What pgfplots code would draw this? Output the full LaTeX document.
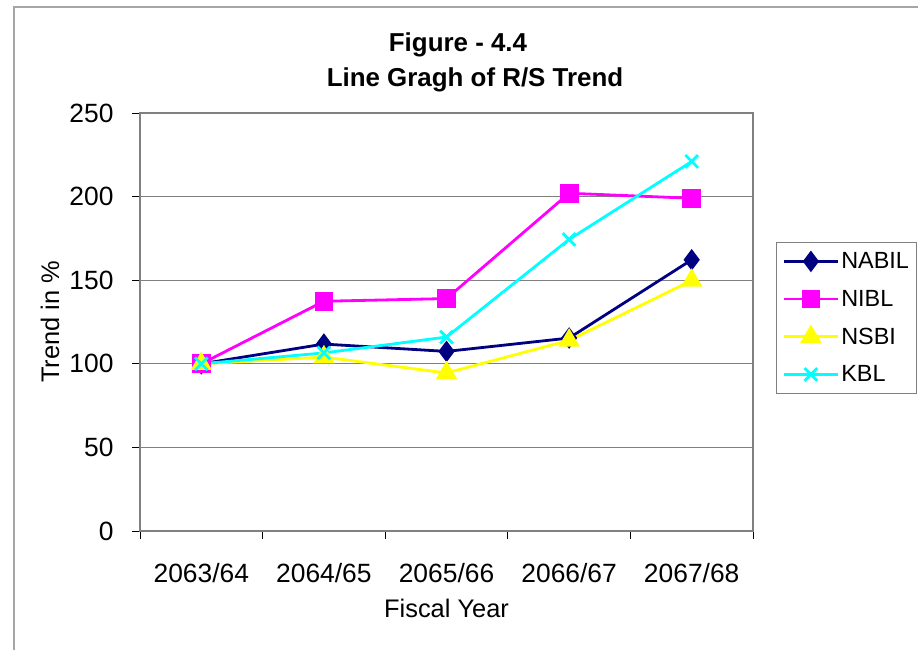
\documentclass[border=0pt]{standalone}
\usepackage{fontspec}
\setmainfont{Liberation Sans}
\usepackage{pgfplots}
\pgfplotsset{compat=1.18}

\definecolor{cNabil}{RGB}{0,0,128}
\definecolor{cNibl}{RGB}{255,0,255}
\definecolor{cNsbi}{RGB}{255,255,0}
\definecolor{cKbl}{RGB}{0,255,255}
\definecolor{frame}{RGB}{128,128,128}

\begin{document}
\begin{tikzpicture}[x=1bp,y=1bp]
  \useasboundingbox (0,0) rectangle (918,650);
  % outer chart frame
  \draw[frame!70, line width=1.2bp] (14,-2) -- (14,643) -- (920,643);
  \begin{axis}[
    at={(140bp,119bp)}, anchor=south west,
    scale only axis, width=613bp, height=418bp,
    xmin=-0.5, xmax=4.5, ymin=0, ymax=250,
    xtick={0,1,2,3,4},
    xticklabels={2063/64,2064/65,2065/66,2066/67,2067/68},
    minor xtick={-0.5,0.5,1.5,2.5,3.5,4.5},
    ytick={0,50,100,150,200,250},
    xtick pos=bottom, ytick pos=left,
    major x tick style={draw=none},
    tick align=outside,
    major tick length=8bp, minor tick length=8bp,
    tick style={black, line width=0.8bp},
    ymajorgrids, grid style={frame, line width=1bp},
    axis line style={frame, line width=1.2bp},
    every x tick label/.append style={font=\fontsize{26.5}{30}\selectfont, yshift=-21bp},
    every y tick label/.append style={font=\fontsize{26.5}{30}\selectfont, xshift=-15bp},
    /pgf/number format/assume math mode=true,
    xlabel={Fiscal Year}, ylabel={Trend in \%},
    xlabel style={font=\fontsize{25.5}{30}\selectfont, at={(axis description cs:0.5,0)}, anchor=center, yshift=-77bp},
    ylabel style={font=\fontsize{25.5}{30}\selectfont, at={(axis description cs:0,0.5)}, anchor=center, rotate=0, yshift=90bp},
    legend style={at={(1.0375,0.691)}, anchor=north west, draw=frame, line width=1bp,
      font=\fontsize{23.5}{26}\selectfont, row sep=16bp, inner xsep=6bp, inner ysep=8bp},
    legend cell align=left,
    legend image code/.code={\draw[#1, mark repeat=2, mark phase=2] plot coordinates {(0bp,0bp) (27bp,0bp) (54bp,0bp)};},
  ]
    \addplot[cNabil, line width=2.8bp, mark=diamond*, mark size=8.5bp, mark options={solid}]
      coordinates {(0,100) (1,111.8) (2,107.4) (3,115.4) (4,162.2)};
    \addlegendentry{NABIL}
    \addplot[cNibl, line width=2.8bp, mark=square*, mark size=8bp]
      coordinates {(0,100) (1,137.4) (2,139.0) (3,202.0) (4,199.0)};
    \addlegendentry{NIBL}
    \addplot[cNsbi, line width=2.8bp, mark=triangle*, mark size=9.5bp]
      coordinates {(0,100) (1,104.0) (2,94.5) (3,114.0) (4,149.8)};
    \addlegendentry{NSBI}
    \addplot[cKbl, line width=2.8bp, mark=x, mark size=9bp]
      coordinates {(0,100) (1,106.5) (2,116.0) (3,174.4) (4,221.0)};
    \addlegendentry{KBL}
  \end{axis}
  \node[font=\bfseries\fontsize{26}{30}\selectfont] at (458,605) {Figure - 4.4};
  \node[font=\bfseries\fontsize{26}{30}\selectfont] at (475,570) {Line Gragh of R/S Trend};
\end{tikzpicture}
\end{document}
